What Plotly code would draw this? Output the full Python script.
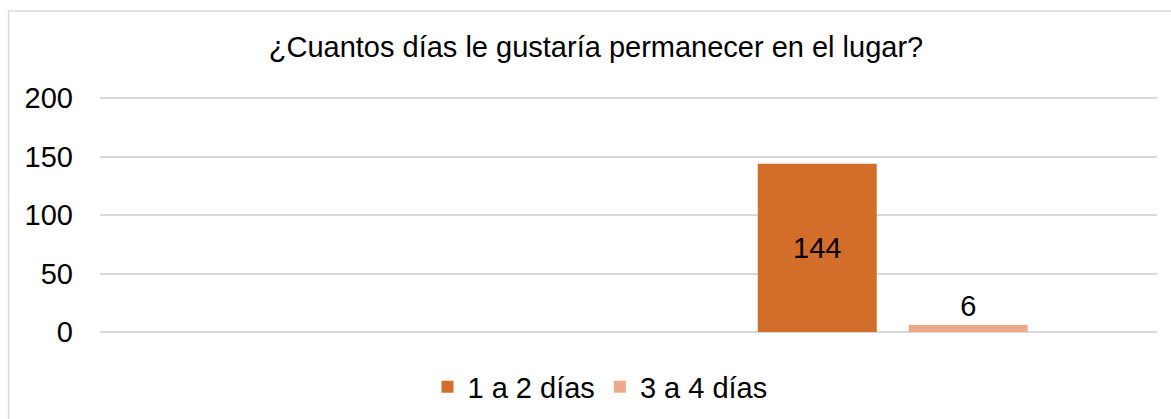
import plotly.graph_objects as go

categories = ["Grupo A", "Grupo B"]
series_names = ["1 a 2 días", "3 a 4 días"]
values_1a2 = [None, 144]
values_3a4 = [None, 6]
colors = ["#D36E2A", "#F0A88B"]
y_ticks = [0, 50, 100, 150, 200]
title = "¿Cuantos días le gustaría permanecer en el lugar?"

FONT = "Liberation Sans, Arial, sans-serif"
FS = 29

W, H = 1171, 419
L, R, B = 100, 14, 87
YMAX = 202
PX_PER_UNIT = 234 / 200
PLOT_H = YMAX * PX_PER_UNIT
T = H - B - PLOT_H
PLOT_W = W - L - R
BOTTOM = H - B


def px_x(px):
    return (px - L) / PLOT_W


def px_y(py):
    return (BOTTOM - py) / PLOT_H


fig = go.Figure()
fig.add_trace(go.Bar(
    x=categories, y=values_1a2, name=series_names[0],
    marker=dict(color=colors[0], line=dict(width=0)),
    text=[("" if v is None else str(v)) for v in values_1a2],
    textposition="inside", insidetextanchor="middle",
    insidetextfont=dict(color="#000000", size=FS, family=FONT),
    textangle=0,
))
fig.add_trace(go.Bar(
    x=categories, y=values_3a4, name=series_names[1],
    marker=dict(color=colors[1], line=dict(width=0)),
    text=[("" if v is None else str(v)) for v in values_3a4],
    textposition="outside",
    outsidetextfont=dict(color="#000000", size=FS, family=FONT),
    textangle=0, cliponaxis=False,
))

fig.update_layout(
    width=W, height=H,
    margin=dict(l=L, r=R, t=T, b=B, autoexpand=False),
    paper_bgcolor="white", plot_bgcolor="white",
    font=dict(family=FONT, size=FS, color="#000000"),
    title=dict(text=title, x=596/W, xref="container", xanchor="center",
               y=1-47/H, yref="container", yanchor="middle",
               font=dict(size=FS, family=FONT, color="#000000")),
    barmode="group", bargap=0.4286, bargroupgap=0.212,
    showlegend=True,
    legend=dict(orientation="h", x=px_x(600), xanchor="center", y=px_y(387), yanchor="middle",
                font=dict(size=FS, family=FONT, color="#000000"),
                bgcolor="rgba(0,0,0,0)", traceorder="normal"),
    xaxis=dict(showticklabels=False, showline=False, showgrid=False, zeroline=False,
               ticks="", range=[-0.5, 1.5], automargin=False),
    yaxis=dict(range=[0, YMAX], tickvals=y_ticks, showgrid=True, gridcolor="#D9D9D9",
               gridwidth=1.5, zeroline=True, zerolinecolor="#D9D9D9", zerolinewidth=1.5,
               showline=False, ticks="", ticklabelstandoff=26, automargin=False,
               tickfont=dict(size=FS, family=FONT, color="#000000")),
    shapes=[dict(type="rect", xref="paper", yref="paper",
                 x0=px_x(8.5), x1=px_x(1190),
                 y0=px_y(440), y1=px_y(10.5),
                 line=dict(color="#D9D9D9", width=1.5), fillcolor="rgba(0,0,0,0)", layer="below")],
)

fig.write_html("out.html", config={"displayModeBar": False},
               post_script="document.body.style.margin='0';document.body.style.overflow='hidden';")
